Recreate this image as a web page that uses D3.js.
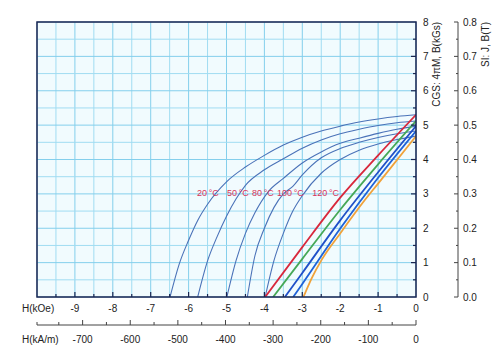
<!DOCTYPE html>
<html><head><meta charset="utf-8">
<script src="https://cdn.jsdelivr.net/npm/d3@7"></script>
<style>
html,body{margin:0;padding:0;background:#fff;}
svg text{font-family:"Liberation Sans",Arial,Helvetica,sans-serif;}
</style></head>
<body>
<svg id="c" width="500" height="360"></svg>
<script>
// ---- data (H in kOe, values in kG) ----
const temps = ["20\u2009°C","50\u2009°C","80\u2009°C","100\u2009°C","120\u2009°C"];
const jH = [
  [0,-0.5,-1,-1.5,-2,-2.5,-3,-3.5,-4,-4.5,-5,-5.5,-5.75,-6,-6.25,-6.49],
  [0,-0.5,-1,-1.5,-2,-2.5,-3,-3.5,-4,-4.5,-4.75,-5,-5.25,-5.5,-5.76],
  [0,-0.5,-1,-1.5,-2,-2.5,-3,-3.5,-3.9,-4.25,-4.5,-4.75,-4.99],
  [0,-0.5,-1,-1.5,-2,-2.5,-3,-3.25,-3.5,-3.75,-4,-4.25,-4.45],
  [0,-0.5,-1,-1.5,-2,-2.5,-3,-3.25,-3.5,-3.75,-3.98]
];
const jVal = [
  [5.30,5.25,5.18,5.09,4.97,4.83,4.65,4.42,4.12,3.78,3.35,2.70,2.25,1.65,0.95,0],
  [5.12,5.07,4.99,4.88,4.75,4.57,4.33,4.02,3.70,3.25,2.85,2.35,1.75,1.05,0],
  [4.97,4.88,4.76,4.62,4.47,4.22,3.90,3.45,3.06,2.45,1.85,1.05,0],
  [4.83,4.75,4.64,4.50,4.32,4.05,3.55,3.22,3.00,2.60,2.00,1.20,0],
  [4.68,4.58,4.45,4.27,4.00,3.60,2.95,2.50,1.85,1.05,0]
];
const bH = [
  [0,-1,-2,-3,-3.98],
  [0,-1,-2,-3,-3.77],
  [0,-1,-2,-3,-3.46],
  [0,-1,-2,-3,-3.24],
  [0,-1,-1.35,-2,-2.49,-2.75,-2.97]
];
const bVal = [
  [5.30,4.12,2.89,1.45,0],
  [5.12,3.86,2.54,1.11,0],
  [4.97,3.63,2.23,0.70,0],
  [4.83,3.47,1.99,0.38,0],
  [4.68,3.30,2.82,1.85,1.08,0.55,0]
];
const bColors = ["#d8283c","#46a857","#2050c8","#1e62d8","#f0a23a"];
const labelH = [-5.78,-4.99,-4.33,-3.67,-2.74];
const labelB = [3.02,3.02,3.02,3.02,3.02];
const kOeTicks = [-9,-8,-7,-6,-5,-4,-3,-2,-1,0];
const kAmTicks = [-700,-600,-500,-400,-300,-200,-100,0];
const cgsTicks = [0,1,2,3,4,5,6,7,8];
const siTicks = [0,0.1,0.2,0.3,0.4,0.5,0.6,0.7,0.8];

// ---- layout ----
const L=37,R=416,T=22,B=297;
const svg = d3.select("#c");
const x = d3.scaleLinear().domain([-10,0]).range([L,R]);
const y = d3.scaleLinear().domain([0,8]).range([B,T]);
const xA = d3.scaleLinear().domain([-10*79.5775,0]).range([L,R]);
const yT = d3.scaleLinear().domain([0,0.8]).range([B,T]);
const ink = "#1b2550";

svg.append("rect").attr("x",L).attr("y",T).attr("width",R-L).attr("height",B-T).attr("fill","#f1fbfe");

// grid
const gx = d3.range(-10,0.01,0.5), gy = d3.range(0,8.01,0.5);
svg.append("g").selectAll("line").data(gx).join("line")
  .attr("x1",d=>x(d)).attr("x2",d=>x(d)).attr("y1",T).attr("y2",B)
  .attr("stroke",d=>Number.isInteger(d)?"#84cfec":"#a0dcf2").attr("stroke-width",1);
svg.append("g").selectAll("line").data(gy).join("line")
  .attr("y1",d=>y(d)).attr("y2",d=>y(d)).attr("x1",L).attr("x2",R)
  .attr("stroke",d=>Number.isInteger(d)?"#84cfec":"#a0dcf2").attr("stroke-width",1);

// curves
const line = d3.line().x(d=>x(d[0])).y(d=>y(d[1])).curve(d3.curveMonotoneX);
svg.append("clipPath").attr("id","pc").append("rect").attr("x",L).attr("y",T).attr("width",R-L).attr("height",B-T);
const plot = svg.append("g").attr("clip-path","url(#pc)");
jH.forEach((hs,i)=>{
  const pts = hs.map((h,k)=>[h,jVal[i][k]]).sort((a,b)=>a[0]-b[0]);
  plot.append("path").attr("d",line(pts)).attr("fill","none").attr("stroke","#4a72b8").attr("stroke-width",1.1);
});
bH.forEach((hs,i)=>{
  const pts = hs.map((h,k)=>[h,bVal[i][k]]).sort((a,b)=>a[0]-b[0]);
  plot.append("path").attr("d",line(pts)).attr("fill","none").attr("stroke",bColors[i]).attr("stroke-width",1.8);
});

// temperature labels
svg.append("g").selectAll("text").data(temps).join("text")
  .attr("x",(d,i)=>x(labelH[i])).attr("y",(d,i)=>y(labelB[i]))
  .attr("dy","0.35em").attr("font-size",9).attr("fill","#d8335a").text(d=>d);

// frame
svg.append("rect").attr("x",L).attr("y",T).attr("width",R-L).attr("height",B-T)
  .attr("fill","none").attr("stroke",ink).attr("stroke-width",1.5);

// bottom kOe ticks (inward)
svg.append("g").selectAll("line").data(gx.filter(d=>d>-10&&d<0)).join("line")
  .attr("x1",d=>x(d)).attr("x2",d=>x(d)).attr("y1",B).attr("y2",d=>B-(Number.isInteger(d)?5:3))
  .attr("stroke",ink).attr("stroke-width",1.2);
svg.append("g").selectAll("text").data(kOeTicks).join("text")
  .attr("x",d=>x(d)).attr("y",308).attr("dy","0.35em").attr("text-anchor","middle")
  .attr("font-size",10).attr("fill","#222").text(d=>d);
svg.append("text").attr("x",22).attr("y",308).attr("dy","0.35em").attr("font-size",10).attr("fill","#222").text("H(kOe)");

// right CGS ticks (inward)
svg.append("g").selectAll("line").data(gy.filter(d=>d>0&&d<8)).join("line")
  .attr("y1",d=>y(d)).attr("y2",d=>y(d)).attr("x1",R).attr("x2",d=>R-(Number.isInteger(d)?5:3))
  .attr("stroke",ink).attr("stroke-width",1.2);
svg.append("g").selectAll("text").data(cgsTicks).join("text")
  .attr("x",R+7).attr("y",d=>y(d)).attr("dy","0.35em").attr("font-size",10).attr("fill","#222").text(d=>d);
svg.append("text").attr("transform",`translate(440,${T}) rotate(-90)`).attr("text-anchor","end")
  .attr("font-size",10).attr("fill","#222").text("CGS: 4πM, B(kGs)");

// SI axis
const gS = svg.append("g").attr("transform","translate(458,0)");
gS.append("line").attr("x1",0).attr("x2",0).attr("y1",T).attr("y2",B).attr("stroke","#444").attr("stroke-width",1);
gS.selectAll("line.t").data(d3.range(0,0.801,0.05)).join("line").attr("class","t")
  .attr("y1",d=>yT(d)).attr("y2",d=>yT(d)).attr("x1",0).attr("x2",d=>Math.abs(d*10-Math.round(d*10))<1e-6?-4:-2)
  .attr("stroke","#444").attr("stroke-width",1);
gS.selectAll("text").data(siTicks).join("text")
  .attr("x",5).attr("y",d=>yT(d)).attr("dy","0.35em").attr("font-size",10).attr("fill","#222").text(d=>d3.format(".1f")(d));
svg.append("text").attr("transform",`translate(489,${T}) rotate(-90)`).attr("text-anchor","end")
  .attr("font-size",10).attr("fill","#222").text("SI: J, B(T)");

// kA/m axis
const yA = 325;
svg.append("line").attr("x1",L).attr("x2",R).attr("y1",yA).attr("y2",yA).attr("stroke","#444").attr("stroke-width",1);
svg.append("g").selectAll("line").data(d3.range(-750,0.1,50).concat([-10*79.5775])).join("line")
  .attr("x1",d=>xA(d)).attr("x2",d=>xA(d)).attr("y1",yA).attr("y2",d=>yA-(d%100===0?5:3))
  .attr("stroke","#444").attr("stroke-width",1);
svg.append("g").selectAll("text").data(kAmTicks).join("text")
  .attr("x",d=>xA(d)).attr("y",339).attr("dy","0.35em").attr("text-anchor","middle")
  .attr("font-size",10).attr("fill","#222").text(d=>d);
svg.append("text").attr("x",22).attr("y",339).attr("dy","0.35em").attr("font-size",10).attr("fill","#222").text("H(kA/m)");
</script>
</body></html>
